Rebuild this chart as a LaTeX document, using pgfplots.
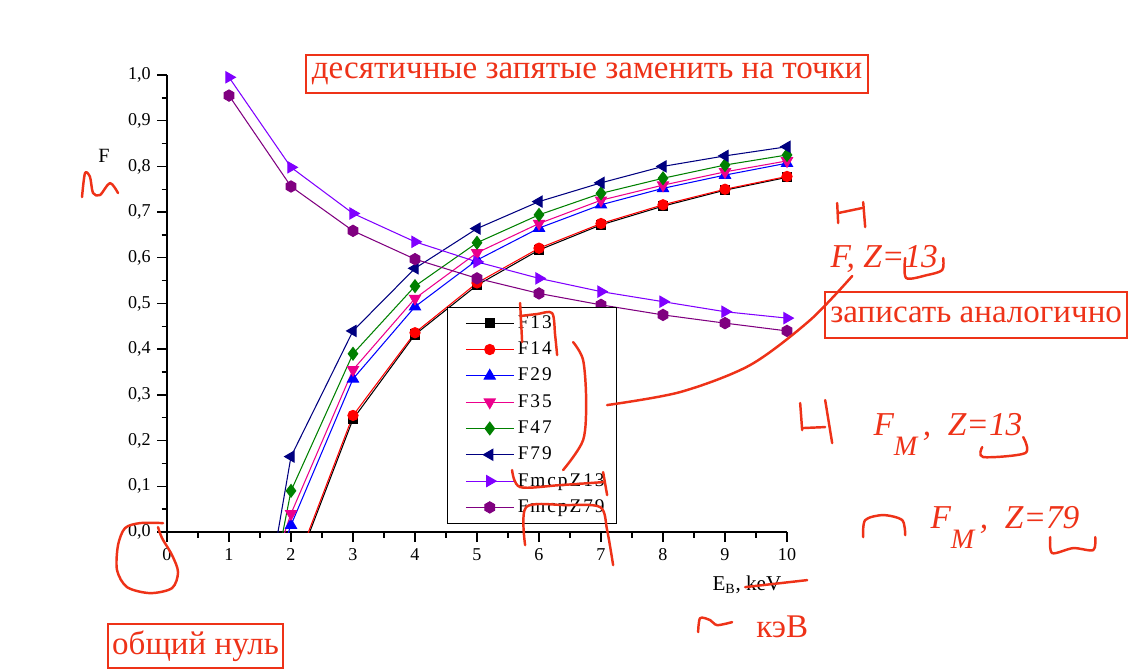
\documentclass[border=0pt]{standalone}
\usepackage{pgfplots}
\pgfplotsset{compat=1.18}
\usepackage{fontspec}
\setmainfont{Liberation Serif}
\newfontfamily\legfont[LetterSpace=10]{Liberation Serif}
\definecolor{ink}{RGB}{238,50,24}
\definecolor{navyb}{RGB}{0,0,128}
\definecolor{grn}{RGB}{0,128,0}
\definecolor{vio}{RGB}{128,0,255}
\definecolor{pur}{RGB}{128,0,128}

\pgfdeclareplotmark{hexagon*}{%
  \pgfpathmoveto{\pgfpointpolar{30}{\pgfplotmarksize}}%
  \pgfpathlineto{\pgfpointpolar{90}{\pgfplotmarksize}}%
  \pgfpathlineto{\pgfpointpolar{150}{\pgfplotmarksize}}%
  \pgfpathlineto{\pgfpointpolar{210}{\pgfplotmarksize}}%
  \pgfpathlineto{\pgfpointpolar{270}{\pgfplotmarksize}}%
  \pgfpathlineto{\pgfpointpolar{330}{\pgfplotmarksize}}%
  \pgfpathclose
  \pgfusepathqfillstroke}

\newcommand{\notefont}{\fontsize{18.8}{22}\selectfont}

\begin{document}
\begin{tikzpicture}
\useasboundingbox (0,0) rectangle (22.84cm,13.42cm);
\begin{axis}[
  at={(3.34cm,2.78cm)}, anchor=south west,
  scale only axis, width=12.4cm, height=9.14cm,
  xmin=0, xmax=10, ymin=0, ymax=1,
  axis lines=left, axis line style={-, line width=1pt},
  xtick={0,1,2,3,4,5,6,7,8,9,10},
  ytick={0,0.1,0.2,0.3,0.4,0.5,0.6,0.7,0.8,0.9,1},
  minor x tick num=1, minor y tick num=1,
  tick align=outside,
  major tick length=0.2cm, minor tick length=0.11cm,
  tick style={black, line width=0.8pt},
  tick label style={font=\fontsize{10.3}{12}\selectfont},
  /pgf/number format/assume math mode=true,
  yticklabel style={/pgf/number format/.cd, fixed, fixed zerofill, precision=1, use comma},
  legend style={at={(axis cs:4.516,0.492)}, anchor=north west, draw=black,
    line width=0.5pt, fill=white, font=\legfont\fontsize{11}{13}\selectfont,
    row sep=2.2pt, inner xsep=5pt, inner ysep=2.5pt, cells={anchor=west}},
  legend image code/.code={\path (0cm,0cm);
    \draw[mark repeat=2,mark phase=2]
    plot coordinates {(0.18cm,0cm) (0.66cm,0cm) (1.14cm,0cm)};},
  every axis plot/.append style={line width=0.6pt},
]
\addplot[black, mark=square*, mark size=2.6pt] coordinates {
  (2,-0.107) (3,0.247) (4,0.432) (5,0.54) (6,0.617) (7,0.672) (8,0.713) (9,0.748) (10,0.776)};
\addplot[red, mark=*, mark size=2.9pt] coordinates {
  (2,-0.1) (3,0.255) (4,0.436) (5,0.545) (6,0.621) (7,0.675) (8,0.716) (9,0.75) (10,0.778)};
\addplot[blue, mark=triangle*, mark size=3.6pt] coordinates {
  (1,-0.36) (2,0.015) (3,0.335) (4,0.493) (5,0.595) (6,0.665) (7,0.716) (8,0.752) (9,0.781) (10,0.807)};
\addplot[magenta, mark=triangle*, mark size=3.6pt, mark options={rotate=180}] coordinates {
  (1,-0.36) (2,0.04) (3,0.355) (4,0.511) (5,0.611) (6,0.675) (7,0.726) (8,0.759) (9,0.788) (10,0.812)};
\addplot[grn, mark=diamond*, mark size=3.6pt] coordinates {
  (1,-0.6) (2,0.09) (3,0.39) (4,0.538) (5,0.633) (6,0.694) (7,0.741) (8,0.774) (9,0.803) (10,0.825)};
\addplot[navyb, mark=triangle*, mark size=3.6pt, mark options={rotate=90}] coordinates {
  (1,-0.62) (2,0.165) (3,0.44) (4,0.577) (5,0.664) (6,0.723) (7,0.764) (8,0.8) (9,0.823) (10,0.843)};
\addplot[vio, mark=triangle*, mark size=3.6pt, mark options={rotate=-90}] coordinates {
  (1,0.995) (2,0.798) (3,0.697) (4,0.635) (5,0.591) (6,0.555) (7,0.526) (8,0.504) (9,0.482) (10,0.468)};
\addplot[pur, mark=hexagon*, mark size=3.2pt] coordinates {
  (1,0.955) (2,0.756) (3,0.659) (4,0.597) (5,0.555) (6,0.522) (7,0.497) (8,0.475) (9,0.457) (10,0.44)};
\legend{F13, F14, F29, F35, F47, F79, FmcpZ13, FmcpZ79}
\end{axis}

\begin{scope}[x=0.02cm, y=-0.02cm, yshift=13.42cm]
  % axis titles
  \node[anchor=base west, font=\fontsize{11.5}{13}\selectfont, inner sep=0] at (98,162) {F};
  \node[anchor=base west, font=\fontsize{12}{14}\selectfont, inner sep=0] at (712,590) {E\textsubscript{B}, keV};
  % boxed remarks
  \node[draw=ink, text=ink, line width=1.2pt, minimum width=11.24cm, minimum height=0.76cm,
        inner sep=0, font=\notefont] at (587,74) {десятичные запятые заменить на точки};
  \node[draw=ink, text=ink, line width=1.2pt, minimum width=6.04cm, minimum height=0.92cm,
        inner sep=0, font=\notefont] at (976,315) {записать аналогично};
  \node[draw=ink, text=ink, line width=1.2pt, minimum width=3.5cm, minimum height=0.88cm,
        inner sep=0, font=\notefont] at (195.5,646) {общий нуль};
  \node[text=ink, font=\notefont, inner sep=0] at (782,627) {кэВ};
  % handwritten labels
  \node[anchor=base west, text=ink, inner sep=0, font=\fontsize{19}{22}\selectfont\itshape]
    at (830,267) {F, Z=13};
  \node[anchor=base west, text=ink, inner sep=0, font=\fontsize{19}{22}\selectfont\itshape]
    at (873,435) {F\raisebox{-0.6em}{\fontsize{16}{18}\selectfont M}\,, \ Z=13};
  \node[anchor=base west, text=ink, inner sep=0, font=\fontsize{19}{22}\selectfont\itshape]
    at (930,528) {F\raisebox{-0.6em}{\fontsize{16}{18}\selectfont M}\,, \ Z=79};
  % scribbles
  \begin{scope}[ink, line width=1.4pt, line cap=round, line join=round]
    \draw (745,587) -- (807,580);
    \draw plot[smooth] coordinates {(82,197) (85,173) (90,177) (93,193) (100,195) (110,183) (118,193)};
    \draw plot[smooth] coordinates {(163,523) (140,523) (125,528) (118,545) (117,570) (127,587) (150,593) (172,588) (178,572) (172,555) (162,538) (158,527)};
    \draw plot[smooth] coordinates {(698,632) (700,618) (710,620) (717,625) (732,622)};
    \draw (837,203) -- (838,223);
    \draw (838,213) -- (862,208);
    \draw (863,202) -- (865,227);
    \draw plot[smooth] coordinates {(905,258) (906,278) (927,275) (942,270) (943,258)};
    \draw plot[smooth] coordinates {(607,405) (680,392) (750,365) (810,320) (852,276)};
    \draw (800,403) -- (802,430);
    \draw (802,428) -- (825,427);
    \draw (825,400) -- (832,443);
    \draw plot[smooth] coordinates {(982,447) (983,457) (1025,453) (1023,437)};
    \draw plot[smooth] coordinates {(863,537) (865,520) (883,515) (902,520) (905,535)};
    \draw plot[smooth] coordinates {(1050,537) (1052,553) (1073,548) (1093,550) (1095,537)};
    \draw plot[smooth] coordinates {(520,303) (521,322) (522,342)};
    \draw plot[smooth] coordinates {(520,316) (537,314) (552,313) (555,335) (557,355)};
    \draw plot[smooth] coordinates {(573,342) (583,360) (586,400) (583,440) (563,470)};
    \draw plot[smooth] coordinates {(512,470) (520,487) (560,485) (603,482)};
    \draw (603,472) -- (607,495);
    \draw plot[smooth] coordinates {(525,545) (526,507) (565,505) (600,507) (607,530) (613,565)};
  \end{scope}
\end{scope}
\end{tikzpicture}
\end{document}
